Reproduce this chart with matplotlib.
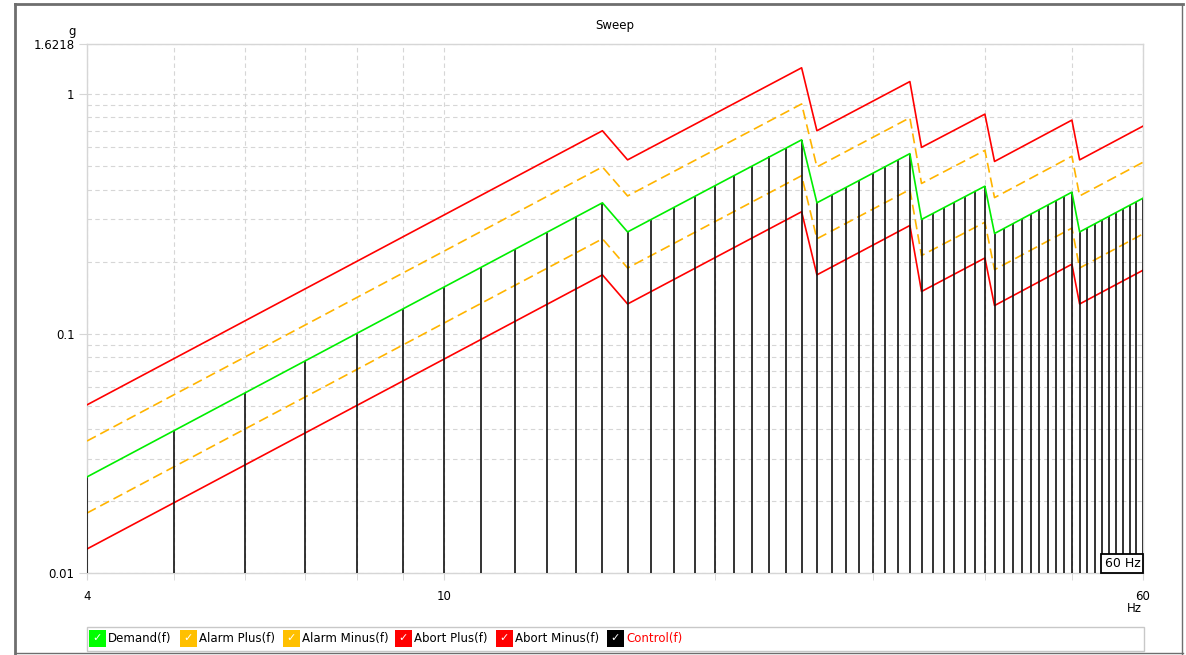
import matplotlib
matplotlib.use("Agg")
import matplotlib.pyplot as plt
from matplotlib.patches import Rectangle
from matplotlib.lines import Line2D
from matplotlib.ticker import FixedLocator, NullFormatter

# ---------------- data ----------------
profile_freqs = [4, 15, 16, 25, 26, 33, 34, 40, 41, 50, 51, 60]
demand      = [0.0252, 0.352, 0.266, 0.645, 0.352, 0.565, 0.300, 0.413, 0.262, 0.390, 0.266, 0.368]
alarm_plus  = [0.0356, 0.497, 0.376, 0.911, 0.497, 0.798, 0.424, 0.583, 0.370, 0.551, 0.376, 0.520]
alarm_minus = [0.0178, 0.249, 0.188, 0.457, 0.249, 0.400, 0.212, 0.292, 0.185, 0.276, 0.188, 0.261]
abort_plus  = [0.0504, 0.704, 0.532, 1.290, 0.704, 1.130, 0.600, 0.826, 0.524, 0.780, 0.532, 0.736]
abort_minus = [0.0126, 0.176, 0.133, 0.323, 0.176, 0.283, 0.150, 0.207, 0.131, 0.195, 0.133, 0.184]

control_freqs = [4, 5, 6, 7, 8, 9, 10, 11, 12, 13, 14, 15,
                 16, 17, 18, 19, 20, 21, 22, 23, 24, 25,
                 26, 27, 28, 29, 30, 31, 32, 33,
                 34, 35, 36, 37, 38, 39, 40,
                 41, 42, 43, 44, 45, 46, 47, 48, 49, 50,
                 51, 52, 53, 54, 55, 56, 57, 58, 59, 60]
control = [0.0252, 0.0391, 0.0563, 0.0766, 0.100, 0.1266, 0.1563, 0.1891, 0.225, 0.2641, 0.3063, 0.352,
           0.266, 0.3003, 0.3367, 0.3751, 0.4156, 0.4582, 0.5029, 0.5497, 0.5985, 0.645,
           0.352, 0.3796, 0.4082, 0.4379, 0.4686, 0.5004, 0.5332, 0.565,
           0.300, 0.3179, 0.3363, 0.3553, 0.3747, 0.3947, 0.413,
           0.262, 0.2749, 0.2882, 0.3017, 0.3156, 0.3298, 0.3443, 0.3591, 0.3742, 0.390,
           0.266, 0.2765, 0.2873, 0.2982, 0.3094, 0.3207, 0.3323, 0.3440, 0.3560, 0.368]

y_ticks = [0.01, 0.1, 1, 1.6218]
y_tick_labels = ["0.01", "0.1", "1", "1.6218"]
x_ticks = [4, 10, 60]
x_tick_labels = ["4", "10", "60"]
x_minor = [5, 6, 7, 8, 9, 20, 30, 40, 50]
y_minor = [0.02, 0.03, 0.04, 0.05, 0.06, 0.07, 0.08, 0.09,
           0.2, 0.3, 0.4, 0.5, 0.6, 0.7, 0.8, 0.9]

legend_items = ["Demand(f)", "Alarm Plus(f)", "Alarm Minus(f)", "Abort Plus(f)", "Abort Minus(f)", "Control(f)"]
legend_colors = ["#00ff00", "#ffc000", "#ffc000", "#ff0000", "#ff0000", "#000000"]

# ---------------- figure ----------------
W, H = 1186, 655
fig = plt.figure(figsize=(W / 100, H / 100), dpi=100)
plt.rcParams['font.family'] = ['DejaVu Sans']

def fx(px):
    return px / W

def fy(py):
    return 1 - py / H

ax = fig.add_axes([fx(87), fy(573), fx(1143) - fx(87), fy(44) - fy(573)])
ax.set_xscale("log")
ax.set_yscale("log")
ax.set_xlim(4, 60)
ax.set_ylim(0.01, 1.6218)

grid_c = "#d6d6d6"
ax.xaxis.set_major_locator(FixedLocator(x_ticks))
ax.xaxis.set_minor_locator(FixedLocator(x_minor))
ax.yaxis.set_major_locator(FixedLocator(y_ticks))
ax.yaxis.set_minor_locator(FixedLocator(y_minor))
ax.set_xticklabels(x_tick_labels)
ax.set_yticklabels(y_tick_labels)
ax.xaxis.set_minor_formatter(NullFormatter())
ax.yaxis.set_minor_formatter(NullFormatter())
ax.tick_params(axis="x", which="both", length=5, color=grid_c, labelsize=8.5, pad=7)
ax.tick_params(axis="y", which="major", length=6, color=grid_c, labelsize=8.5, pad=3)
ax.tick_params(axis="y", which="minor", length=0)
for s in ax.spines.values():
    s.set_color(grid_c)
    s.set_linewidth(1)

ax.grid(which="both", linestyle=(0, (4, 3)), color=grid_c, linewidth=0.8)
ax.set_axisbelow(True)

dash = (0, (6, 3))
ax.plot(profile_freqs, abort_plus, color="#ff0000", lw=1.2, zorder=3)
ax.plot(profile_freqs, abort_minus, color="#ff0000", lw=1.2, zorder=3)
ax.plot(profile_freqs, alarm_plus, color="#ffb400", lw=1.2, ls=dash, zorder=3)
ax.plot(profile_freqs, alarm_minus, color="#ffb400", lw=1.2, ls=dash, zorder=3)
ax.vlines(control_freqs, 0.01, control, color="#111111", lw=1.2, zorder=4)
ax.plot(profile_freqs, demand, color="#00ee00", lw=1.2, zorder=5)

# cursor annotation box
ax.text(0.9975, 0.006, "60 Hz", transform=ax.transAxes, ha="right", va="bottom",
        fontsize=9, zorder=6,
        bbox=dict(boxstyle="square,pad=0.25", fc="white", ec="black", lw=1.3))

# titles / axis labels
fig.text(fx(615), fy(26), "Sweep", ha="center", va="center", fontsize=8.5)
fig.text(fx(72), fy(32), "g", ha="center", va="center", fontsize=8.5)
fig.text(fx(1134), fy(609), "Hz", ha="center", va="center", fontsize=8.5)

# outer frame
fig.add_artist(Line2D([fx(15), fx(1183)], [fy(4), fy(4)], color="#6e6e6e", lw=2))
fig.add_artist(Line2D([fx(15), fx(15)], [fy(4), fy(654)], color="#6e6e6e", lw=2))
fig.add_artist(Line2D([fx(1182), fx(1182)], [fy(4), fy(654)], color="#6e6e6e", lw=1))
fig.add_artist(Line2D([fx(15), fx(1183)], [fy(653), fy(653)], color="#6e6e6e", lw=1))

# legend box
fig.add_artist(Rectangle((fx(87), fy(651)), fx(1144) - fx(87), fy(627) - fy(651),
                         fill=False, ec="#c8c8c8", lw=1))
box_x = [89, 180, 283, 395, 496, 607]
box_w = 17
for bx, label, col in zip(box_x, legend_items, legend_colors):
    fig.add_artist(Rectangle((fx(bx), fy(647)), fx(box_w), fy(630) - fy(647),
                             fc=col, ec="none"))
    fig.text(fx(bx + box_w / 2), fy(638.5), "\u2713", ha="center", va="center",
             color="white", fontsize=8, fontweight="bold")
    fig.text(fx(bx + box_w + 2), fy(638.5), label, ha="left", va="center",
             fontsize=8.5, color="#ff0000" if label == "Control(f)" else "black")

fig.savefig("out.png", dpi=100)
